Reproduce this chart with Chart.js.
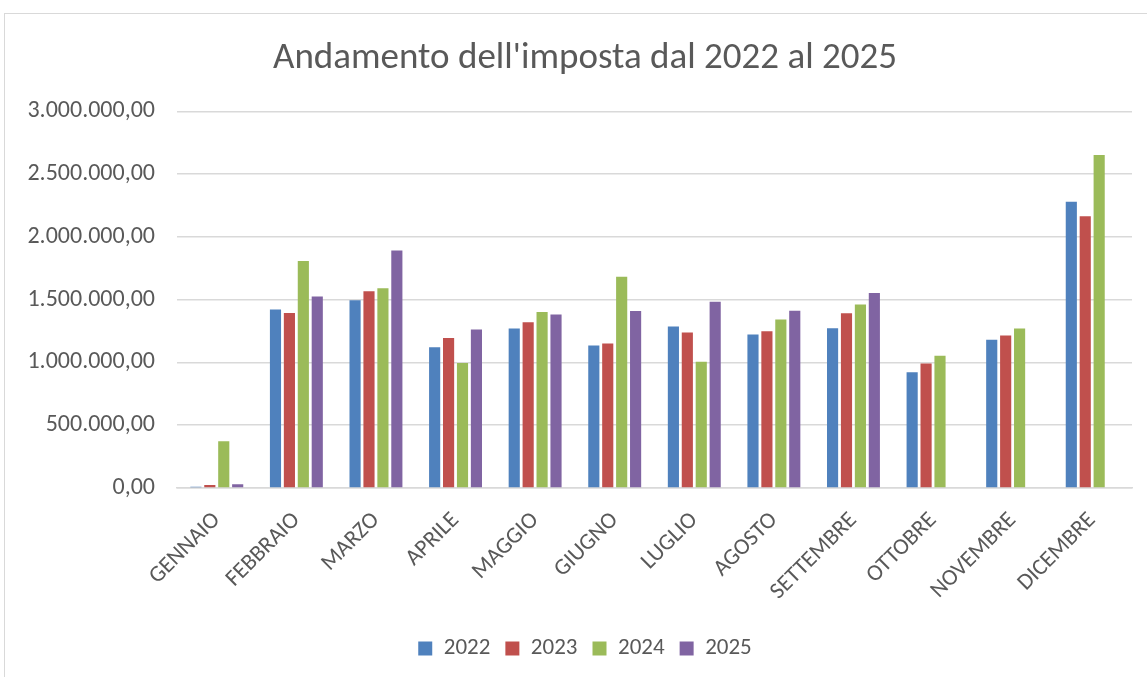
<!DOCTYPE html>
<html>
<head>
<meta charset="utf-8">
<script src="https://cdn.jsdelivr.net/npm/chart.js@4"></script>
<style>
    body { margin: 0; background: #fff; overflow: hidden; }
    #cornice {
        position: absolute;
        left: 4px;
        top: 13px;
        width: 1200px;
        height: 700px;
        border-left: 1px solid #d9d9d9;
        border-top: 1px solid #d9d9d9;
    }
    #contenitore {
        position: absolute;
        left: 0;
        top: 0;
        width: 1147px;
        height: 677px;
    }
</style>
</head>
<body>
<div id="cornice"></div>
<div id="contenitore"><canvas id="myChart"></canvas></div>
<script>
const mesi = ['GENNAIO', 'FEBBRAIO', 'MARZO', 'APRILE', 'MAGGIO', 'GIUGNO',
    'LUGLIO', 'AGOSTO', 'SETTEMBRE', 'OTTOBRE', 'NOVEMBRE', 'DICEMBRE'];

const anno2022 = [10000, 1422000, 1496000, 1122000, 1271000, 1135000, 1287000, 1223000, 1273000, 923000, 1180000, 2281000];
const anno2023 = [24000, 1395000, 1568000, 1194000, 1321000, 1151000, 1239000, 1249000, 1393000, 992000, 1215000, 2165000];
const anno2024 = [372000, 1809000, 1592000, 995000, 1403000, 1682000, 1005000, 1342000, 1462000, 1053000, 1271000, 2653000];
const anno2025 = [29000, 1525000, 1891000, 1263000, 1382000, 1409000, 1483000, 1411000, 1554000, null, null, null];

const formatoIt = (v) => {
    const parti = Math.abs(v).toFixed(2).split('.');
    const intero = parti[0].replace(/\B(?=(\d{3})+(?!\d))/g, '.');
    return intero + ',' + parti[1];
};

const font = "Carlito, 'Liberation Sans Narrow', 'Open Sans', sans-serif";
const grigio = '#595959';

// le etichette dell'asse y vengono ritagliate sul box della scala:
// dopo il layout lo allargo fino al bordo del canvas
const allargaAsseY = {
    id: 'allargaAsseY',
    afterLayout(chart) {
        chart.scales.y.left = 0;
    }
};

const ctx = document.getElementById('myChart').getContext('2d');

const myChart = new Chart(ctx, {
    type: 'bar',
    data: {
        labels: mesi,
        datasets: [
            { label: '2022', data: anno2022, backgroundColor: '#4f81bd' },
            { label: '2023', data: anno2023, backgroundColor: '#c0504d' },
            { label: '2024', data: anno2024, backgroundColor: '#9bbb59' },
            { label: '2025', data: anno2025, backgroundColor: '#8064a2' }
        ]
    },
    plugins: [allargaAsseY],
    options: {
        responsive: true,
        maintainAspectRatio: false,
        animation: false,
        categoryPercentage: 0.7,
        barPercentage: 0.8,
        layout: {
            // margine sinistro per centrare titolo e legenda come nell'originale
            padding: { left: 38, right: 15, top: 0, bottom: 7 }
        },
        plugins: {
            title: {
                display: true,
                text: "Andamento dell'imposta dal 2022 al 2025",
                color: grigio,
                font: { family: font, size: 37, weight: 'normal' },
                padding: { top: 37, bottom: 30 }
            },
            legend: {
                position: 'bottom',
                labels: {
                    color: grigio,
                    font: { family: font, size: 23 },
                    boxWidth: 14,
                    boxHeight: 14,
                    padding: 15
                }
            },
            tooltip: { enabled: false }
        },
        scales: {
            x: {
                grid: { display: false },
                border: { color: '#d9d9d9', width: 1.5 },
                ticks: {
                    color: grigio,
                    font: { family: font, size: 23 },
                    minRotation: 45,
                    maxRotation: 45,
                    padding: 11
                },
                afterFit: (scala) => { scala.height = 134; }
            },
            y: {
                min: 0,
                max: 3000000,
                grid: { color: '#d9d9d9', lineWidth: 1.5, drawTicks: false },
                border: { display: false },
                ticks: {
                    stepSize: 500000,
                    padding: 22,
                    color: grigio,
                    font: { family: font, size: 24 },
                    callback: (v) => formatoIt(v)
                },
                afterFit: (scala) => { scala.width = 139; }
            }
        }
    }
});
</script>
</body>
</html>
